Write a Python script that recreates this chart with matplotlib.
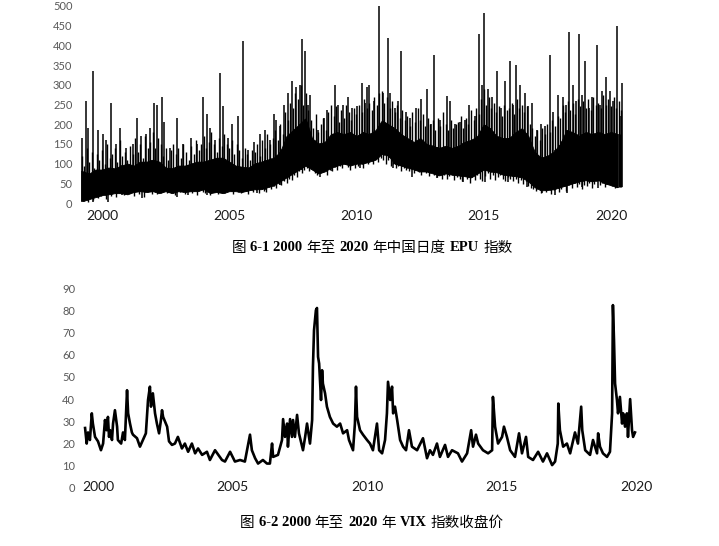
import numpy as np
import matplotlib
matplotlib.use('Agg')
import matplotlib.pyplot as plt

# ---- China daily EPU ----
# solid core of the series: lower / upper edge, one value per quarter from 1999.25
band_t = np.arange(1999.25, 2020.26, 0.25)
band_lo = [5, 10, 15, 20, 22, 25, 25, 22, 28, 30, 28, 30, 25, 30, 25, 30, 28, 30, 30, 35,
           25, 28, 25, 30, 30, 28, 32, 35, 35, 40, 45, 55, 65, 75, 85, 95, 85, 75, 80, 90,
           95, 100, 95, 100, 100, 105, 110, 125, 120, 100, 95, 90, 85, 80, 80, 75, 70, 75, 72, 70,
           68, 65, 75, 85, 80, 78, 72, 70, 68, 65, 55, 40, 32, 33, 35, 40, 45, 50, 55, 58,
           55, 58, 50, 45, 40]
band_hi = [80, 75, 85, 85, 90, 88, 95, 100, 95, 105, 105, 110, 105, 90, 88, 95, 95, 100, 105, 105,
           110, 115, 115, 105, 95, 92, 90, 100, 105, 110, 115, 130, 170, 185, 200, 215, 165, 150, 155, 175,
           180, 175, 180, 170, 180, 175, 185, 210, 200, 190, 175, 165, 155, 165, 150, 145, 140, 145, 140, 145,
           155, 160, 170, 200, 190, 170, 165, 165, 180, 190, 170, 130, 115, 120, 130, 150, 185, 180, 170, 180,
           175, 180, 175, 180, 175]

# upper edge of the dense part, one reading every ~0.1 year from 1999.2 to 2020.4
dense_v = [120, 95, 140, 105, 130, 90, 125, 110,
           135, 100, 150, 115, 125, 140, 105, 160, 120, 130,
           110, 145, 125, 165, 130, 150, 115, 170, 140, 155,
           180, 140, 165, 150, 120, 140, 110, 135, 150, 125,
           140, 115, 150, 130, 110, 145, 125, 160, 135, 150,
           170, 140, 155, 180, 150, 130, 165, 145, 175, 150,
           140, 160, 125, 150, 135, 115, 140, 125, 110, 135,
           130, 150, 120, 160, 140, 175, 150, 165, 185, 160,
           200, 175, 230, 210, 255, 240, 280, 265, 300, 250,
           280, 235, 210, 190, 225, 180, 200, 215, 185, 230,
           250, 220, 245, 205, 235, 215, 250, 230, 210, 240,
           225, 250, 230, 265, 240, 255, 235, 270, 250, 280,
           285, 255, 270, 240, 260, 230, 250, 215, 235, 210,
           220, 195, 230, 205, 240, 210, 225, 195, 215, 200,
           210, 185, 215, 195, 230, 200, 185, 210, 190, 200,
           205, 220, 190, 215, 200, 235, 210, 240, 225, 265,
           290, 250, 270, 240, 255, 230, 245, 220, 250, 235,
           240, 255, 225, 265, 240, 250, 230, 245, 200, 190,
           170, 185, 160, 190, 175, 200, 180, 210, 195, 220,
           215, 250, 230, 260, 235, 255, 225, 265, 245, 260,
           240, 265, 235, 270, 250, 255, 240, 275, 250, 265,
           245, 270, 240, 260, 235]
dense_t = np.linspace(1999.2, 2020.4, len(dense_v))

# lower edge of the dense part, one reading every ~0.1 year from 1999.25 to 2020.35
dense_lo = [5, 15, 3, 20, 8, 25, 12, 18,
            22, 10, 28, 18, 30, 15, 25, 32, 20, 28,
            25, 35, 18, 30, 22, 33, 15, 28, 35, 24,
            30, 22, 38, 28, 35, 25, 40, 30, 20, 33,
            28, 35, 22, 30, 38, 25, 32, 20, 35, 28,
            25, 33, 20, 35, 28, 22, 38, 30, 25, 32,
            30, 22, 35, 28, 25, 38, 30, 22, 35, 28,
            32, 25, 38, 30, 28, 40, 35, 42, 38, 48,
            45, 55, 50, 62, 58, 70, 65, 80, 75, 85,
            90, 80, 95, 75, 70, 82, 78, 88, 72, 85,
            80, 92, 85, 95, 88, 100, 92, 85, 98, 90,
            95, 102, 90, 105, 98, 110, 100, 112, 105, 115,
            108, 98, 110, 95, 100, 88, 95, 82, 90, 85,
            80, 88, 75, 85, 78, 70, 82, 75, 68, 78,
            72, 65, 75, 62, 70, 60, 68, 72, 58, 65,
            62, 55, 68, 60, 52, 65, 58, 70, 62, 55,
            68, 75, 62, 70, 58, 65, 72, 60, 55, 65,
            60, 55, 62, 52, 58, 48, 55, 42, 38, 35,
            30, 38, 25, 35, 28, 40, 22, 32, 38, 28,
            35, 42, 30, 45, 38, 50, 40, 48, 35, 45,
            42, 50, 38, 48, 55, 45, 52, 40, 48, 55,
            42, 38, 45, 40]
dense_lo_t = np.linspace(1999.25, 2020.35, len(dense_lo))

# single-day spikes above the band
spike_t = [1999.21, 1999.37, 1999.45, 1999.65, 1999.84, 2000.04, 2000.16, 2000.35, 2000.55, 2000.71,
           2000.94, 2001.22, 2001.38, 2001.53, 2001.73, 2001.89, 2002.04, 2002.16, 2002.36, 2002.44,
           2002.67, 2002.95, 2003.18, 2003.50, 2003.73, 2003.97, 2004.13, 2004.24, 2004.44, 2004.64,
           2004.75, 2004.95, 2005.11, 2005.34, 2005.54, 2005.74, 2005.97, 2006.21, 2006.40, 2006.60,
           2006.76, 2006.84, 2006.99, 2007.15, 2007.31, 2007.47, 2007.62, 2007.78, 2007.86, 2007.98,
           2008.09, 2008.17, 2008.49, 2008.72, 2008.84, 2009.16, 2009.27, 2009.47, 2009.67, 2009.82,
           2010.02, 2010.22, 2010.34, 2010.41, 2010.49, 2010.69, 2010.88, 2011.04, 2011.24, 2011.32,
           2011.51, 2011.63, 2011.75, 2011.95, 2012.10, 2012.34, 2012.53, 2012.77, 2012.93, 2013.05,
           2013.28, 2013.56, 2013.67, 2013.87, 2014.07, 2014.26, 2014.42, 2014.66, 2014.81, 2014.93,
           2015.01, 2015.17, 2015.32, 2015.52, 2015.68, 2015.83, 2016.03, 2016.15, 2016.27, 2016.42,
           2016.62, 2016.74, 2016.90, 2017.09, 2017.25, 2017.41, 2017.60, 2017.72, 2017.92, 2018.11,
           2018.23, 2018.35, 2018.51, 2018.62, 2018.74, 2018.86, 2018.98, 2019.14, 2019.25, 2019.45,
           2019.57, 2019.65, 2019.80, 2019.96, 2020.08, 2020.24, 2020.35, 2020.43]
spike_v = [165, 260, 190, 335, 185, 175, 160, 255, 150, 190,
           140, 150, 215, 170, 175, 190, 255, 250, 270, 205,
           140, 215, 150, 165, 150, 270, 225, 190, 160, 330,
           245, 165, 200, 220, 410, 135, 155, 175, 185, 160,
           225, 210, 195, 250, 280, 310, 295, 300, 415, 385,
           250, 275, 185, 215, 235, 300, 250, 250, 268, 240,
           245, 304, 255, 295, 300, 260, 500, 280, 420, 280,
           240, 260, 385, 230, 215, 240, 265, 290, 200, 375,
           210, 272, 260, 200, 205, 210, 250, 220, 430, 300,
           483, 290, 270, 335, 240, 310, 360, 250, 350, 300,
           280, 245, 255, 185, 200, 195, 375, 230, 275, 270,
           250, 435, 300, 260, 428, 275, 360, 240, 270, 400,
           250, 285, 320, 285, 260, 450, 220, 305]

# single-day dips below the band
dip_t = [1999.21, 1999.41, 1999.65, 2000.24, 2000.79, 2001.57, 2001.93, 2002.59, 2002.95, 2003.38,
         2004.13, 2004.72, 2005.50, 2006.09, 2006.40, 2006.99, 2007.86, 2008.57, 2009.04, 2010.14,
         2011.43, 2012.18, 2013.16, 2013.60, 2014.18, 2015.05, 2015.95, 2016.70, 2017.29, 2017.80,
         2018.27, 2018.86, 2019.49, 2020.28]
dip_v = [3, 8, 3, 3, 20, 12, 29, 33, 16, 20,
         20, 25, 29, 25, 33, 46, 84, 67, 80, 88,
         88, 67, 63, 71, 54, 54, 54, 41, 25, 20,
         25, 41, 37, 37]

# ---- VIX close ----
vix_t = [1999.52, 1999.58, 1999.63, 1999.70, 1999.77, 1999.81, 1999.89, 2000.00, 2000.11, 2000.19,
         2000.26, 2000.32, 2000.37, 2000.41, 2000.45, 2000.52, 2000.56, 2000.63, 2000.71, 2000.74,
         2000.86, 2000.93, 2001.00, 2001.08, 2001.12, 2001.19, 2001.26, 2001.30, 2001.45, 2001.56,
         2001.67, 2001.78, 2001.86, 2001.93, 2001.97, 2002.04, 2002.12, 2002.19, 2002.27, 2002.34,
         2002.38, 2002.42, 2002.57, 2002.64, 2002.75, 2002.86, 2002.97, 2003.12, 2003.23, 2003.35,
         2003.49, 2003.61, 2003.72, 2003.87, 2004.05, 2004.16, 2004.35, 2004.61, 2004.72, 2004.91,
         2005.09, 2005.28, 2005.46, 2005.65, 2005.72, 2005.84, 2005.95, 2006.13, 2006.28, 2006.39,
         2006.47, 2006.51, 2006.69, 2006.84, 2006.88, 2006.95, 2007.03, 2007.06, 2007.14, 2007.21,
         2007.25, 2007.32, 2007.40, 2007.47, 2007.62, 2007.70, 2007.77, 2007.88, 2007.96, 2007.99,
         2008.03, 2008.10, 2008.14, 2008.18, 2008.22, 2008.29, 2008.33, 2008.36, 2008.44, 2008.51,
         2008.62, 2008.74, 2008.88, 2009.00, 2009.11, 2009.26, 2009.33, 2009.48, 2009.55, 2009.59,
         2009.63, 2009.74, 2009.85, 2010.00, 2010.11, 2010.22, 2010.37, 2010.45, 2010.56, 2010.67,
         2010.74, 2010.78, 2010.86, 2010.93, 2010.97, 2011.04, 2011.12, 2011.23, 2011.34, 2011.45,
         2011.56, 2011.67, 2011.86, 2012.08, 2012.23, 2012.34, 2012.45, 2012.60, 2012.71, 2012.90,
         2013.01, 2013.16, 2013.38, 2013.53, 2013.72, 2013.87, 2013.94, 2014.05, 2014.13, 2014.31,
         2014.50, 2014.65, 2014.68, 2014.76, 2014.87, 2015.02, 2015.09, 2015.20, 2015.32, 2015.50,
         2015.65, 2015.76, 2015.91, 2015.99, 2016.17, 2016.36, 2016.54, 2016.69, 2016.88, 2016.99,
         2017.09, 2017.11, 2017.17, 2017.29, 2017.43, 2017.55, 2017.73, 2017.84, 2017.96, 2018.00,
         2018.11, 2018.29, 2018.40, 2018.55, 2018.59, 2018.66, 2018.77, 2018.92, 2019.03, 2019.11,
         2019.14, 2019.18, 2019.22, 2019.29, 2019.33, 2019.40, 2019.48, 2019.52, 2019.59, 2019.66,
         2019.70, 2019.78, 2019.85, 2019.89, 2019.96]
vix_v = [27, 20, 25, 21.6, 33.6, 29, 23, 21, 17, 20,
         30.6, 26, 32, 23, 26, 21.6, 29, 35, 27.6, 21.6,
         20, 25, 21.6, 44, 33.6, 29, 25, 24, 22.4, 18.6,
         21.6, 24.6, 39.6, 45.6, 36.6, 42.6, 33.6, 29, 24.6, 30.6,
         35, 32, 27.6, 21, 19.4, 20, 23, 17.8, 20, 16.3,
         20, 15.6, 17.8, 14.9, 16.3, 12.6, 17, 12.6, 11.9, 16.3,
         11.9, 12.6, 11.9, 24, 17, 13.4, 11, 12.6, 11, 11,
         20, 14, 14.9, 21.6, 31, 23, 29, 18.6, 31, 23,
         30.6, 23, 32.9, 24.6, 17, 23, 29, 20, 30.6, 54.6,
         71, 80, 81, 59, 56, 39.6, 53, 47, 42.6, 36.6,
         32, 29, 27.6, 29, 24.6, 26, 21.6, 17, 29, 45.6,
         32, 26, 24, 21.6, 20, 17, 29, 17, 15.6, 21.6,
         33.6, 47.8, 39.6, 45.6, 33.6, 36.6, 30.6, 21.6, 18.6, 17,
         26, 18.6, 17, 22.4, 13.4, 17, 14.9, 20, 14, 19.4,
         14, 17, 15.6, 11.9, 15.6, 26, 18.6, 24, 20, 17,
         15.6, 17, 41, 27.6, 20, 23, 27.6, 23, 17, 14,
         24.6, 15.6, 23, 14, 12.6, 16.3, 11.9, 15.6, 10.3, 11.9,
         20, 38, 26, 18.6, 20, 15.6, 25, 20, 36.6, 26,
         17, 14.9, 21.6, 15.6, 24.6, 18.6, 15.6, 14, 16.3, 33.6,
         82.3, 66.6, 47, 39.6, 33.6, 41, 29, 33.6, 27.6, 33.6,
         23, 40, 26, 23, 25]

years = [2000, 2005, 2010, 2015, 2020]
cap1 = [('图', False), ('6-1 2000', True), ('年至', False), ('2020', True),
        ('年中国日度', False), ('EPU', True), ('指数', False)]
cap2 = [('图', False), ('6-2 2000', True), ('年至', False), ('2020', True),
        ('年', False), ('VIX', True), ('指数收盘价', False)]

W, H = 719, 546
fig = plt.figure(figsize=(W / 100, H / 100), dpi=100)
tick_font = 'Lato'


def style(ax):
    for s in ax.spines.values():
        s.set_visible(False)
    ax.tick_params(length=0)
    for lab in ax.get_yticklabels():
        lab.set_fontfamily(tick_font)
        lab.set_fontsize(8)
        lab.set_color('#595959')
    for lab in ax.get_xticklabels():
        lab.set_fontfamily(tick_font)
        lab.set_fontsize(10)
        lab.set_color('#1a1a1a')


# top panel: EPU
ax1 = fig.add_axes([78 / W, 1 - 203 / H, 562 / W, 197 / H])
ax1.fill_between(band_t, band_lo, band_hi, color='black', lw=0.6)
base_d = np.interp(dense_t, band_t, band_lo)
ax1.vlines(dense_t, base_d, dense_v, color='black', lw=1.0)
top_d = np.interp(dense_lo_t, band_t, band_hi)
ax1.vlines(dense_lo_t, dense_lo, top_d, color='black', lw=1.0)
base_up = np.interp(spike_t, band_t, band_lo)
ax1.vlines(spike_t, base_up, spike_v, color='black', lw=1.1)
base_dn = np.interp(dip_t, band_t, band_hi)
ax1.vlines(dip_t, dip_v, base_dn, color='black', lw=1.1)
ax1.set_xlim(1999.057, 2021.14)
ax1.set_ylim(0, 500)
ax1.set_yticks(range(0, 501, 50))
ax1.set_xticks(years)
ax1.tick_params(axis='x', pad=5)
ax1.tick_params(axis='y', pad=4)
style(ax1)

# bottom panel: VIX
ax2 = fig.add_axes([78 / W, 1 - 488 / H, 582 / W, 200 / H])
ax2.plot(vix_t, vix_v, color='black', lw=1.9)
ax2.set_xlim(1999.257, 2020.89)
ax2.set_ylim(0, 90)
ax2.set_yticks(range(0, 91, 10))
ax2.set_xticks(years)
ax2.tick_params(axis='x', pad=-5)
ax2.tick_params(axis='y', pad=2)
style(ax2)


def caption(parts, cx, cy, size=10.5, gap=4.0):
    r = fig.canvas.get_renderer()
    items = []
    for s, bold in parts:
        if bold:
            t = fig.text(0, 1 - cy / H, s, fontsize=size, family='Liberation Serif',
                         weight='bold', va='center', ha='left')
        else:
            t = fig.text(0, 1 - cy / H, s, fontsize=size,
                         family=['Noto Sans CJK SC', 'DejaVu Sans'], va='center', ha='left')
        items.append((t, t.get_window_extent(r).width))
    total = sum(w for _, w in items) + gap * (len(items) - 1)
    x = cx - total / 2
    for t, w in items:
        t.set_x(x / W)
        x += w + gap


caption(cap1, 372, 248)
caption(cap2, 372, 523)

fig.savefig('out.png', dpi=100)
